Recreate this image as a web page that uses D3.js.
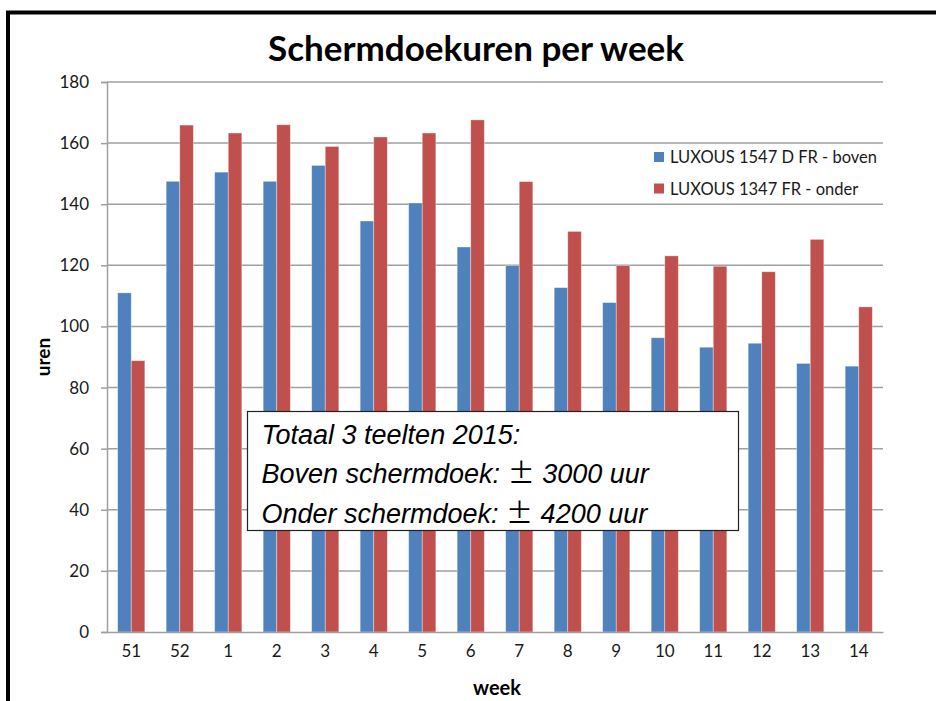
<!DOCTYPE html>
<html>
<head>
<meta charset="utf-8">
<script src="https://cdn.jsdelivr.net/npm/d3@7"></script>
<style>
  body { margin: 0; background: #fff; }
  svg { display: block; }
</style>
</head>
<body>
<div id="chart"></div>
<script>
// data
var weeks = ["51", "52", "1", "2", "3", "4", "5", "6", "7", "8", "9", "10", "11", "12", "13", "14"];
var boven = [111, 147.5, 150.5, 147.5, 152.7, 134.5, 140.4, 126, 119.9, 112.7, 107.8, 96.3, 93.2, 94.5, 87.9, 87];
var onder = [88.8, 165.9, 163.3, 166, 158.9, 162, 163.3, 167.6, 147.4, 131.1, 119.9, 123.1, 119.7, 117.9, 128.5, 106.4];
var seriesNames = ["LUXOUS 1547 D FR - boven", "LUXOUS 1347 FR - onder"];
var yTicks = [0, 20, 40, 60, 80, 100, 120, 140, 160, 180];
var noteLines = ["Totaal 3 teelten 2015:", "Boven schermdoek: \u00B1 3000 uur", "Onder schermdoek: \u00B1 4200 uur"];

var W = 936, H = 701;
var margin = {top: 82, right: 53, bottom: 69, left: 107},
    width = W - margin.left - margin.right,
    height = H - margin.top - margin.bottom;

var colors = ["#4f81bd", "#c0504d"];
var gridColor = "#a0a0a0";
var labelFont = "Lato, sans-serif";

var svg = d3.select("#chart")
  .append("svg")
  .attr("width", W)
  .attr("height", H);

// frame (left + top edge only)
svg.append("path")
  .attr("d", "M8,701 V12.5 H936")
  .attr("fill", "none")
  .attr("stroke", "#000")
  .attr("stroke-width", 4);

// title
svg.append("text")
  .attr("x", 476)
  .attr("y", 61)
  .attr("text-anchor", "middle")
  .style("font-family", labelFont)
  .style("font-weight", "bold")
  .style("font-size", "35px")
  .attr("fill", "#000")
  .text("Schermdoekuren per week");

var g = svg.append("g")
  .attr("transform", "translate(" + margin.left + "," + margin.top + ")");

var x = d3.scaleBand()
  .domain(weeks)
  .range([0, width])
  .paddingInner(0.44)
  .paddingOuter(0.22);

var xSub = d3.scaleBand()
  .domain([0, 1])
  .range([0, x.bandwidth()])
  .padding(0);

var y = d3.scaleLinear()
  .domain([0, 180])
  .range([height, 0]);

// gridlines
g.append("g")
  .selectAll("line")
  .data(yTicks.filter(function(d) { return d > 0; }))
  .enter().append("line")
  .attr("x1", 0)
  .attr("x2", width)
  .attr("y1", function(d) { return y(d); })
  .attr("y2", function(d) { return y(d); })
  .attr("stroke", gridColor)
  .attr("stroke-width", 1.5);

// y axis
var yAxis = g.append("g")
  .call(d3.axisLeft(y).tickValues(yTicks).tickSize(6).tickPadding(12));
yAxis.select(".domain").attr("stroke", gridColor).attr("stroke-width", 1.5);
yAxis.selectAll(".tick line").attr("stroke", gridColor).attr("stroke-width", 1.5);
yAxis.selectAll("text")
  .style("font-family", labelFont)
  .style("font-size", "17px")
  .attr("fill", "#1a1a1a");

// bars
var rows = weeks.map(function(w, i) { return {week: w, vals: [boven[i], onder[i]]}; });

g.append("g")
  .selectAll("g")
  .data(rows)
  .enter().append("g")
  .attr("transform", function(d) { return "translate(" + x(d.week) + ",0)"; })
  .selectAll("rect")
  .data(function(d) { return d.vals.map(function(v, k) { return {k: k, value: v}; }); })
  .enter().append("rect")
  .attr("x", function(d) { return xSub(d.k); })
  .attr("y", function(d) { return y(d.value); })
  .attr("width", xSub.bandwidth())
  .attr("height", function(d) { return height - y(d.value); })
  .attr("fill", function(d) { return colors[d.k]; })
  .attr("stroke", "rgba(255,255,255,0.45)")
  .attr("stroke-width", 0.8);

// x axis
var xAxis = g.append("g")
  .attr("transform", "translate(0," + height + ")")
  .call(d3.axisBottom(x).tickSize(0).tickPadding(13));
xAxis.select(".domain").attr("stroke", gridColor).attr("stroke-width", 1.5);
xAxis.selectAll("text")
  .style("font-family", labelFont)
  .style("font-size", "17px")
  .attr("fill", "#1a1a1a");

// axis titles
svg.append("text")
  .attr("transform", "translate(50,357) rotate(-90)")
  .attr("text-anchor", "middle")
  .style("font-family", labelFont)
  .style("font-weight", "bold")
  .style("font-size", "19px")
  .text("uren");

svg.append("text")
  .attr("x", 497)
  .attr("y", 695)
  .attr("text-anchor", "middle")
  .style("font-family", labelFont)
  .style("font-weight", "bold")
  .style("font-size", "20px")
  .text("week");

// legend
var legend = svg.append("g")
  .attr("transform", "translate(654,157)")
  .selectAll("g")
  .data(seriesNames)
  .enter().append("g")
  .attr("transform", function(d, i) { return "translate(0," + (i * 31.5) + ")"; });
legend.append("rect")
  .attr("x", 0)
  .attr("y", -5)
  .attr("width", 10)
  .attr("height", 10)
  .attr("fill", function(d, i) { return colors[i]; });
legend.append("text")
  .attr("x", 16)
  .attr("y", 6)
  .style("font-family", labelFont)
  .style("font-size", "16.5px")
  .attr("fill", "#1a1a1a")
  .text(function(d) { return d; });

// note box
var note = svg.append("g").attr("transform", "translate(247.5,411.5)");
note.append("rect")
  .attr("width", 491)
  .attr("height", 119)
  .attr("fill", "#fff")
  .attr("stroke", "#222")
  .attr("stroke-width", 1.2);
var noteText = note.selectAll("text")
  .data(noteLines)
  .enter().append("text")
  .attr("x", 14)
  .attr("y", function(d, i) { return 32 + i * 39.5; })
  .style("font-family", "'Liberation Sans', Arial, sans-serif")
  .style("font-style", "italic")
  .style("font-size", "27px")
  .style("white-space", "pre")
  .attr("fill", "#000");
// the ± sign is set in a wider (CJK) face, like the original
noteText.each(function(d) {
  var t = d3.select(this);
  d.split("\u00B1").forEach(function(part, j) {
    if (j > 0) {
      t.append("tspan")
        .style("font-family", "'Noto Sans CJK JP', sans-serif")
        .style("font-style", "normal")
        .text("\u00B1");
    }
    t.append("tspan").text(part);
  });
});
</script>
</body>
</html>
